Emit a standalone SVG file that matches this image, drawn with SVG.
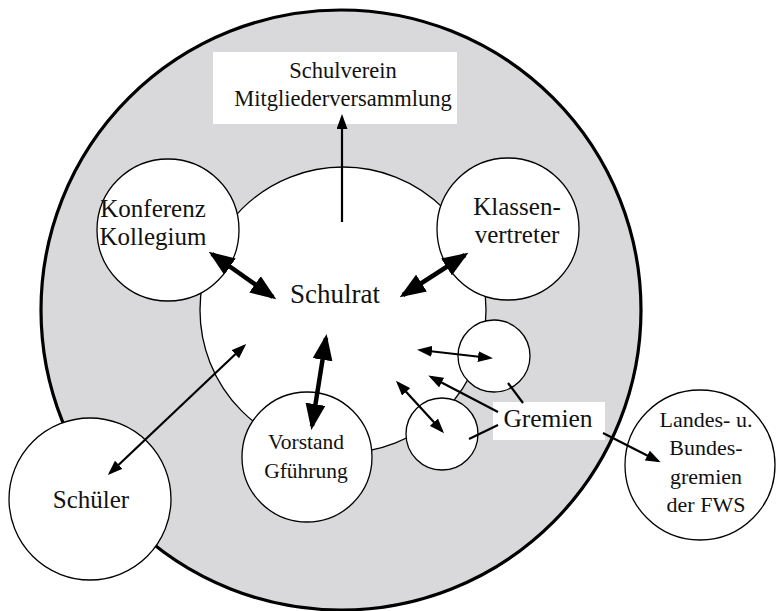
<svg xmlns="http://www.w3.org/2000/svg" width="779" height="611" viewBox="0 0 779 611">
<style>
.c{fill:#fff;stroke:#000;stroke-width:1.3}
.t{font-family:"Liberation Serif","Times New Roman",serif;fill:#111;text-anchor:middle}
.thin{stroke:#000;stroke-width:2.2;fill:none}
.thick{stroke:#000;stroke-width:4.5;fill:none}
</style>
<defs>
<marker id="ah" markerUnits="userSpaceOnUse" markerWidth="15" markerHeight="11" refX="12" refY="5.5" orient="auto-start-reverse"><path d="M0,0 L15,5.5 L0,11 z" fill="#000"/></marker>
<marker id="ahT" markerUnits="userSpaceOnUse" markerWidth="26" markerHeight="20" refX="22" refY="10" orient="auto-start-reverse"><path d="M0,0 L26,10 L0,20 z" fill="#000"/></marker>
</defs>
<rect width="779" height="611" fill="#fff"/>
<g id="aussen"><circle cx="341" cy="310" r="300" fill="#d9d9db" stroke="#000" stroke-width="3.2"/></g>
<g id="schulrat"><circle class="c" cx="343" cy="310" r="143"/><text class="t" x="335" y="303" font-size="27">Schulrat</text></g>
<g id="schulverein"><rect x="213" y="52" width="244" height="72" fill="#fff"/><text class="t" x="343" y="78" font-size="22.5">Schulverein</text><text class="t" x="343" y="106" font-size="22.5">Mitgliederversammlung</text></g>
<g id="konferenz"><circle class="c" cx="168" cy="230" r="71"/><text class="t" x="153" y="217" font-size="25">Konferenz</text><text class="t" x="153" y="245" font-size="25">Kollegium</text></g>
<g id="klassen"><circle class="c" cx="508" cy="229" r="71"/><text class="t" x="517" y="215" font-size="25">Klassen-</text><text class="t" x="517" y="243" font-size="25">vertreter</text></g>
<g id="gremium1"><circle class="c" cx="494" cy="356" r="36"/></g>
<g id="gremium2"><circle class="c" cx="442" cy="434" r="36"/></g>
<g id="vorstand"><circle class="c" cx="307" cy="457" r="65"/><text class="t" x="306" y="449" font-size="21.5">Vorstand</text><text class="t" x="306" y="478" font-size="21.5">Gführung</text></g>
<g id="schueler"><circle class="c" cx="90" cy="499" r="81"/><text class="t" x="91" y="508" font-size="25">Schüler</text></g>
<g id="landes"><circle class="c" cx="700" cy="465" r="75"/><text class="t" x="706" y="427" font-size="22">Landes- u.</text><text class="t" x="706" y="455" font-size="22">Bundes-</text><text class="t" x="706" y="484" font-size="22">gremien</text><text class="t" x="706" y="512" font-size="22">der FWS</text></g>
<g id="gremien"><rect x="493" y="402" width="112" height="38" fill="#fff"/><text class="t" x="548" y="427" font-size="25.5">Gremien</text></g>
<g id="connectors">
<line class="thin" x1="342" y1="222" x2="342" y2="117" marker-end="url(#ah)"/>
<line class="thick" x1="212" y1="254" x2="273" y2="297" marker-start="url(#ahT)" marker-end="url(#ahT)"/>
<line class="thick" x1="465" y1="255" x2="403" y2="295" marker-start="url(#ahT)" marker-end="url(#ahT)"/>
<line class="thick" x1="326" y1="338" x2="312" y2="426" marker-start="url(#ahT)" marker-end="url(#ahT)"/>
<line class="thin" x1="110" y1="473" x2="244" y2="346" marker-start="url(#ah)" marker-end="url(#ah)"/>
<line class="thin" x1="420" y1="350" x2="490" y2="358" marker-start="url(#ah)" marker-end="url(#ah)"/>
<line class="thin" x1="498" y1="412" x2="431" y2="377" marker-end="url(#ah)"/>
<line class="thin" x1="398" y1="383" x2="442" y2="431" marker-start="url(#ah)" marker-end="url(#ah)"/>
<line class="thin" x1="498" y1="425" x2="469" y2="439"/>
<line class="thin" x1="523" y1="403" x2="508" y2="383"/>
<line class="thin" x1="603" y1="433" x2="658" y2="461" marker-end="url(#ah)"/>
</g>
</svg>
